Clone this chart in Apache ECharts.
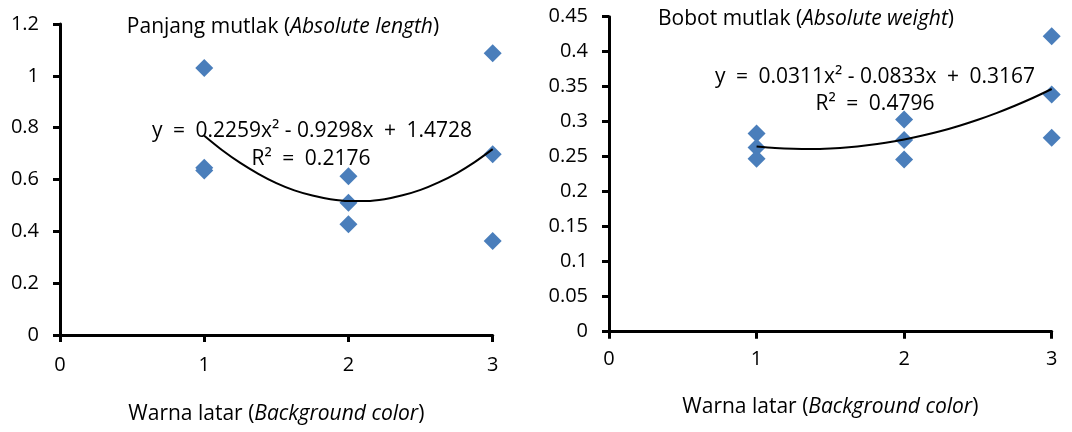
<!DOCTYPE html>
<html><head><meta charset="utf-8">
<script src="https://cdn.jsdelivr.net/npm/echarts@6/dist/echarts.min.js"></script>
<style>html,body{margin:0;padding:0;background:#fff}#c{width:1072px;height:432px}</style>
</head><body><div id="c"></div>
<script>
// Left chart: Panjang mutlak (Absolute length)
const lengthX = [1, 1, 1, 2, 2, 2, 3, 3, 3];
const lengthY = [1.03, 0.645, 0.635, 0.613, 0.51, 0.427, 1.087, 0.697, 0.363];
// trend curves
const trendX = [1, 1.125, 1.25, 1.375, 1.5, 1.625, 1.75, 1.875, 2, 2.125, 2.25, 2.375, 2.5, 2.625, 2.75, 2.875, 3];
const lengthTrendY = [0.769, 0.713, 0.664, 0.622, 0.586, 0.558, 0.538, 0.524, 0.517, 0.517, 0.524, 0.539, 0.560, 0.589, 0.624, 0.667, 0.717];
// Right chart: Bobot mutlak (Absolute weight)
const weightX = [1, 1, 1, 2, 2, 2, 3, 3, 3];
const weightY = [0.283, 0.263, 0.247, 0.303, 0.274, 0.246, 0.422, 0.339, 0.277];
const weightTrendY = [0.2645, 0.2624, 0.2612, 0.2609, 0.2617, 0.2634, 0.2662, 0.2698, 0.2745, 0.2802, 0.2867, 0.2943, 0.3028, 0.3123, 0.3228, 0.3342, 0.3467];
const lengthTicks = {min: 0, max: 1.2, interval: 0.2};
const weightTicks = {min: 0, max: 0.45, interval: 0.05};
const xTicks = {min: 0, max: 3, interval: 1};

const FONT = 'Open Sans';
const FS = 20;
const TFS = 21;
const pair = (xs, ys) => xs.map((x, i) => [x, ys[i]]);
const axisLine = {show: true, onZero: false, lineStyle: {color: '#000', width: 3}};
const axisTick = {show: true, inside: false, length: 7, lineStyle: {color: '#000', width: 3}};
const richName = {
  n: {fontFamily: FONT, fontSize: TFS, color: '#000'},
  i: {fontFamily: FONT, fontSize: TFS, color: '#000', fontStyle: 'italic'}
};
function xAxis(gridIndex, gap, margin) {
  return {
    type: 'value', gridIndex, ...xTicks,
    axisLine, axisTick, splitLine: {show: false},
    axisLabel: {fontFamily: FONT, fontSize: FS, color: '#000', margin},
    name: '{n|Warna latar (}{i|Background color}{n|)}',
    nameLocation: 'middle', nameGap: gap,
    nameTextStyle: {rich: richName}
  };
}
function yAxis(gridIndex, ticks) {
  return {
    type: 'value', gridIndex, ...ticks,
    axisLine, axisTick, splitLine: {show: false},
    axisLabel: {fontFamily: FONT, fontSize: FS, color: '#000', margin: 21}
  };
}
const scatterStyle = {symbol: 'diamond', symbolSize: 18, itemStyle: {color: '#4A7EBB', opacity: 1}};
const lineStyleT = {color: '#000', width: 2};
const plainText = {font: TFS + 'px "' + FONT + '"', fill: '#000', align: 'center', verticalAlign: 'middle'};
const S = '\u2002';

const chart = echarts.init(document.getElementById('c'), null, {renderer: 'canvas'});
chart.setOption({
  animation: false,
  backgroundColor: '#fff',
  grid: [
    {left: 60, top: 24, width: 432.7, height: 311},
    {left: 609, top: 16.7, width: 442.7, height: 315}
  ],
  xAxis: [xAxis(0, 69, 20), xAxis(1, 65, 18)],
  yAxis: [yAxis(0, lengthTicks), yAxis(1, weightTicks)],
  series: [
    {type: 'scatter', xAxisIndex: 0, yAxisIndex: 0, data: pair(lengthX, lengthY), ...scatterStyle, z: 2},
    {type: 'line', xAxisIndex: 0, yAxisIndex: 0, data: pair(trendX, lengthTrendY), smooth: 0.3, showSymbol: false, lineStyle: lineStyleT, z: 3},
    {type: 'scatter', xAxisIndex: 1, yAxisIndex: 1, data: pair(weightX, weightY), ...scatterStyle, z: 2},
    {type: 'line', xAxisIndex: 1, yAxisIndex: 1, data: pair(trendX, weightTrendY), smooth: 0.3, showSymbol: false, lineStyle: lineStyleT, z: 3}
  ],
  graphic: [
    {type: 'text', x: 283, y: 27, z: 10, style: {text: '{n|Panjang mutlak (}{i|Absolute length}{n|)}', rich: richName, align: 'center', verticalAlign: 'middle'}},
    {type: 'text', x: 806, y: 19, z: 10, style: {text: '{n|Bobot mutlak (}{i|Absolute weight}{n|)}', rich: richName, align: 'center', verticalAlign: 'middle'}},
    {type: 'text', x: 312, y: 131, z: 10, style: {text: 'y' + S + '=' + S + '0.2259x² - 0.9298x' + S + '+' + S + '1.4728', ...plainText}},
    {type: 'text', x: 311, y: 159, z: 10, style: {text: 'R²' + S + '=' + S + '0.2176', ...plainText}},
    {type: 'text', x: 875, y: 77, z: 10, style: {text: 'y' + S + '=' + S + '0.0311x² - 0.0833x' + S + '+' + S + '0.3167', ...plainText}},
    {type: 'text', x: 875, y: 104, z: 10, style: {text: 'R²' + S + '=' + S + '0.4796', ...plainText}}
  ]
});
</script></body></html>
